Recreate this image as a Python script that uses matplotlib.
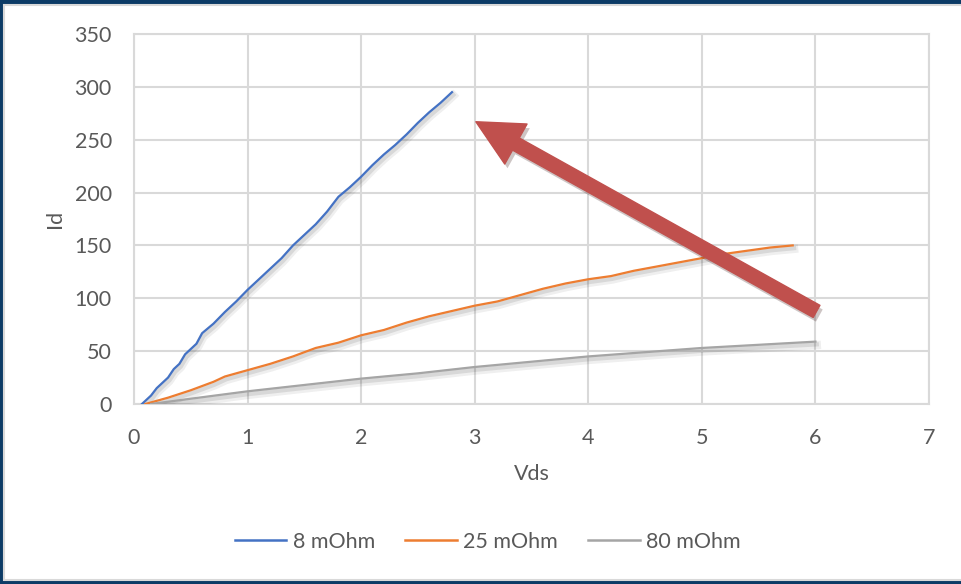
import matplotlib
matplotlib.use('Agg')
import matplotlib.pyplot as plt
import matplotlib.patheffects as pe
from matplotlib.patches import Rectangle

plt.rcParams['font.family'] = ['Lato', 'DejaVu Sans']

# data
vds_8 = [0.07, 0.15, 0.2, 0.3, 0.35, 0.4, 0.45, 0.5, 0.55, 0.6, 0.7, 0.8, 0.9, 1.0,
         1.1, 1.2, 1.3, 1.4, 1.5, 1.6, 1.7, 1.8, 1.9, 2.0, 2.1, 2.2, 2.3, 2.4,
         2.5, 2.6, 2.7, 2.8]
id_8 = [0, 8, 15, 25, 33, 38, 47, 52, 57, 67, 76, 87, 97, 108,
        118, 128, 138, 150, 160, 170, 182, 196, 205, 215, 226, 236, 245, 255,
        266, 276, 285, 295]

vds_25 = [0.1, 0.3, 0.5, 0.7, 0.8, 1.0, 1.2, 1.4, 1.6, 1.8, 2.0, 2.2, 2.4, 2.6,
          2.8, 3.0, 3.2, 3.4, 3.6, 3.8, 4.0, 4.2, 4.4, 4.6, 4.8, 5.0, 5.2, 5.4,
          5.6, 5.8]
id_25 = [0, 6, 13, 21, 26, 32, 38, 45, 53, 58, 65, 70, 77, 83,
         88, 93, 97, 103, 109, 114, 118, 121, 126, 130, 134, 138, 142, 145,
         148, 150]

vds_80 = [0.15, 0.5, 1.0, 1.5, 2.0, 2.5, 3.0, 3.5, 4.0, 4.5, 5.0, 5.5, 6.0]
id_80 = [0, 5, 12, 18, 24, 29, 35, 40, 45, 49, 53, 56, 59]

labels = ['8 mOhm', '25 mOhm', '80 mOhm']
colors = ['#4472C4', '#ED7D31', '#A5A5A5']

fig = plt.figure(figsize=(9.62, 5.84), dpi=100, facecolor='#0c3b66')
# white slide panel
fig.patches.append(Rectangle((4 / 962, 4 / 584), 1, 575 / 584, transform=fig.transFigure,
                             facecolor='white', edgecolor='#d9d9d9', linewidth=1.5, zorder=-5))

ax = fig.add_axes([134 / 962, 1 - 404 / 584, 795 / 962, 370 / 584])
ax.set_facecolor('white')

# soft shadow under the lines
shadow = [pe.SimpleLineShadow(offset=(1, -2.5), alpha=0.08, shadow_color='#333333', linewidth=6),
          pe.SimpleLineShadow(offset=(1, -2), alpha=0.12, shadow_color='#333333', linewidth=3),
          pe.Normal()]
for xs, ys, lab, c in zip([vds_8, vds_25, vds_80], [id_8, id_25, id_80], labels, colors):
    ax.plot(xs, ys, color=c, lw=1.6, label=lab, path_effects=shadow, zorder=3)

ax.set_xlim(0, 7)
ax.set_ylim(0, 350)
ax.set_xticks(range(0, 8))
ax.set_yticks(range(0, 351, 50))
ax.grid(True, color='#d9d9d9', lw=1.5)
ax.set_axisbelow(True)
for s in ax.spines.values():
    s.set_color('#d9d9d9')
    s.set_linewidth(1.5)
ax.tick_params(length=0, labelsize=15.5, labelcolor='#595959')
ax.tick_params(axis='y', pad=16)
ax.tick_params(axis='x', pad=17)
ax.set_xlabel('Vds', fontsize=15.5, color='#595959', labelpad=12)
ax.set_ylabel('Id', fontsize=15.5, color='#595959', labelpad=7)

leg = ax.legend(loc='center', bbox_to_anchor=(0.445, -0.372), ncol=3, frameon=False,
                fontsize=15.5, labelcolor='#595959', handlelength=2.4, handletextpad=0.3,
                columnspacing=1.4)
for h in leg.get_lines():
    h.set_linewidth(1.8)
    h.set_path_effects([])

# red annotation arrow
ax.annotate('', xy=(3.01, 267), xytext=(6.01, 87.6),
            arrowprops=dict(arrowstyle='simple,head_length=3.3,head_width=3.3,tail_width=1.0',
                            mutation_scale=10, color='#C0504D', shrinkA=0, shrinkB=0,
                            path_effects=[pe.SimplePatchShadow(offset=(2, -3), alpha=0.25),
                                          pe.Normal()]),
            zorder=5)

fig.savefig('out.png', dpi=100, facecolor=fig.get_facecolor())
